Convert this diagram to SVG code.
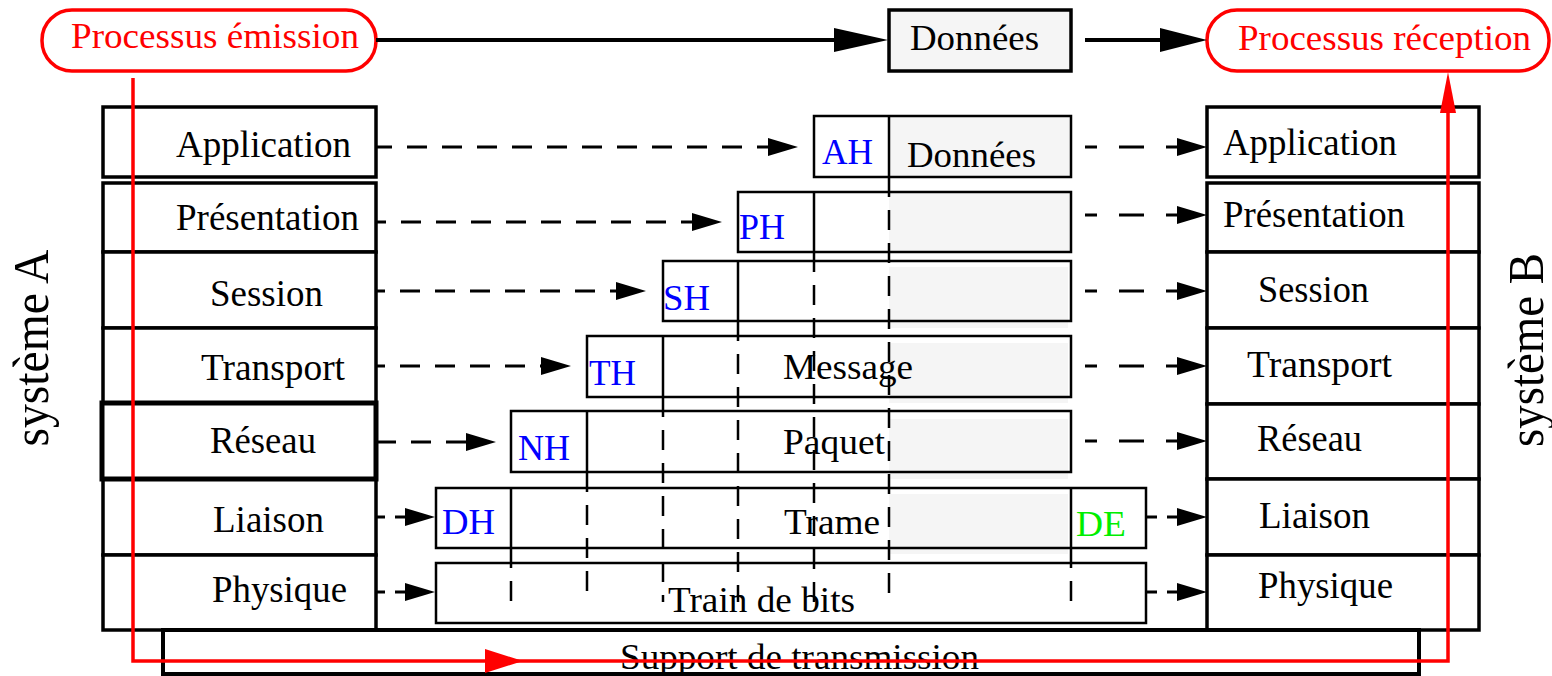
<svg xmlns="http://www.w3.org/2000/svg" width="1552" height="676" viewBox="0 0 1552 676">
<style>
text{font-family:"Liberation Serif","Times New Roman",serif;font-size:36px;fill:#000}
.red{fill:#ff0000;font-size:35px}
.blue{fill:#0000ff}
.green{fill:#00ee00}
.st{font-size:37px}
.big{font-size:50px}
.stack{fill:#fff;stroke:#000;stroke-width:3.5}
.thick{stroke-width:5}
.frame{fill:none;stroke:#000;stroke-width:2.5}
.gray{fill:#f5f5f5;stroke:none}
.div{stroke:#000;stroke-width:2.5}
.vdash{stroke:#000;stroke-width:2.5;stroke-dasharray:20 13;fill:none}
.hdash{stroke:#000;stroke-width:3;fill:none;stroke-dasharray:20 15;stroke-dashoffset:9}
.rdash{stroke:#000;stroke-width:3;fill:none;stroke-dasharray:11 22 25 22 12}
.sdash{stroke:#000;stroke-width:3;fill:none;stroke-dasharray:10 10}
.proc{fill:#fff;stroke:#ff0000;stroke-width:3.5}
</style>
<defs>
<marker id="ah" markerUnits="userSpaceOnUse" markerWidth="30" markerHeight="18" refX="0" refY="9" orient="auto-start-reverse">
<path d="M0,0 L30,9 L0,18 z" fill="#000"/>
</marker>
</defs>

<!-- system labels -->
<text class="big" transform="translate(48,348) rotate(-90)" text-anchor="middle" textLength="197" lengthAdjust="spacingAndGlyphs">système A</text>
<text class="big" transform="translate(1543,350) rotate(-90)" text-anchor="middle" textLength="194" lengthAdjust="spacingAndGlyphs">système B</text>

<!-- left stack -->
<g id="stackA">
<rect class="stack" x="103" y="107" width="273" height="70"/>
<text class="st" x="176" y="157" textLength="175" lengthAdjust="spacingAndGlyphs">Application</text>
<rect class="stack" x="103" y="183" width="273" height="69"/>
<text class="st" x="176" y="230" textLength="183" lengthAdjust="spacingAndGlyphs">Présentation</text>
<rect class="stack" x="103" y="252" width="273" height="76"/>
<text class="st" x="210" y="306" textLength="113" lengthAdjust="spacingAndGlyphs">Session</text>
<rect class="stack" x="103" y="328" width="273" height="75"/>
<text class="st" x="201" y="380" textLength="144" lengthAdjust="spacingAndGlyphs">Transport</text>
<rect class="stack" x="103" y="479" width="273" height="76"/>
<text class="st" x="213" y="532" textLength="111" lengthAdjust="spacingAndGlyphs">Liaison</text>
<rect class="stack" x="103" y="555" width="273" height="75"/>
<text class="st" x="212" y="602" textLength="135" lengthAdjust="spacingAndGlyphs">Physique</text>
<rect class="stack thick" x="102" y="403" width="274" height="76"/>
<text class="st" x="210" y="453" textLength="106" lengthAdjust="spacingAndGlyphs">Réseau</text>
</g>

<!-- right stack -->
<g id="stackB">
<rect class="stack" x="1207" y="107" width="272" height="70"/>
<text class="st" x="1223" y="155" textLength="174" lengthAdjust="spacingAndGlyphs">Application</text>
<rect class="stack" x="1207" y="183" width="272" height="69"/>
<text class="st" x="1223" y="227" textLength="182" lengthAdjust="spacingAndGlyphs">Présentation</text>
<rect class="stack" x="1207" y="252" width="272" height="76"/>
<text class="st" x="1258" y="302" textLength="111" lengthAdjust="spacingAndGlyphs">Session</text>
<rect class="stack" x="1207" y="328" width="272" height="76"/>
<text class="st" x="1247" y="377" textLength="145" lengthAdjust="spacingAndGlyphs">Transport</text>
<rect class="stack" x="1207" y="404" width="272" height="75"/>
<text class="st" x="1257" y="451" textLength="105" lengthAdjust="spacingAndGlyphs">Réseau</text>
<rect class="stack" x="1207" y="479" width="272" height="76"/>
<text class="st" x="1259" y="528" textLength="111" lengthAdjust="spacingAndGlyphs">Liaison</text>
<rect class="stack" x="1207" y="555" width="272" height="75"/>
<text class="st" x="1258" y="598" textLength="135" lengthAdjust="spacingAndGlyphs">Physique</text>
</g>

<!-- support -->
<g id="support">
<rect x="163" y="630" width="1256" height="44" fill="#fff" stroke="#000" stroke-width="4"/>
<text x="620" y="669" textLength="359" lengthAdjust="spacingAndGlyphs">Support de transmission</text>
</g>

<!-- top row -->
<g id="emission">
<rect class="proc" x="42" y="10" width="334" height="61" rx="30"/>
<text class="red" x="71" y="48" textLength="288" lengthAdjust="spacingAndGlyphs">Processus émission</text>
</g>
<g id="donnees">
<rect x="889" y="10" width="182" height="61" fill="#f5f5f5" stroke="#000" stroke-width="3.5"/>
<text x="910" y="50" textLength="129" lengthAdjust="spacingAndGlyphs">Données</text>
</g>
<g id="reception">
<rect class="proc" x="1207" y="10" width="342" height="61" rx="30"/>
<text class="red" x="1238" y="50" textLength="293" lengthAdjust="spacingAndGlyphs">Processus réception</text>
</g>

<!-- encapsulation frames -->
<g id="frames">
<rect class="gray" x="889" y="116" width="182" height="61"/>
<rect class="gray" x="889" y="192" width="182" height="60"/>
<rect class="gray" x="889" y="267" width="179" height="61"/>
<rect class="gray" x="889" y="343" width="179" height="60"/>
<rect class="gray" x="889" y="419" width="179" height="60"/>
<rect class="gray" x="889" y="494" width="179" height="60"/>

<g id="frameAH">
<rect class="frame" x="814" y="116" width="257" height="61"/>
<line class="div" x1="889" y1="116" x2="889" y2="177"/>
<text class="blue" x="822" y="164" textLength="51" lengthAdjust="spacingAndGlyphs">AH</text>
<text x="907" y="167" textLength="129" lengthAdjust="spacingAndGlyphs">Données</text>
</g>
<g id="framePH">
<rect class="frame" x="738" y="192" width="333" height="60"/>
<line class="div" x1="814" y1="192" x2="814" y2="252"/>
<text class="blue" x="739" y="239" textLength="46" lengthAdjust="spacingAndGlyphs">PH</text>
</g>
<g id="frameSH">
<rect class="frame" x="663" y="261" width="408" height="60"/>
<line class="div" x1="738" y1="261" x2="738" y2="321"/>
<text class="blue" x="663" y="310" textLength="47" lengthAdjust="spacingAndGlyphs">SH</text>
</g>
<g id="frameTH">
<rect class="frame" x="587" y="336" width="484" height="61"/>
<line class="div" x1="663" y1="336" x2="663" y2="397"/>
<text class="blue" x="589" y="385" textLength="47" lengthAdjust="spacingAndGlyphs">TH</text>
<text x="783" y="379" textLength="130" lengthAdjust="spacingAndGlyphs">Message</text>
</g>
<g id="frameNH">
<rect class="frame" x="511" y="411" width="560" height="61"/>
<line class="div" x1="587" y1="411" x2="587" y2="472"/>
<text class="blue" x="518" y="460" textLength="52" lengthAdjust="spacingAndGlyphs">NH</text>
<text x="783" y="454" textLength="102" lengthAdjust="spacingAndGlyphs">Paquet</text>
</g>
<g id="frameDH">
<rect class="frame" x="436" y="488" width="710" height="60"/>
<line class="div" x1="511" y1="488" x2="511" y2="548"/>
<line class="div" x1="1071" y1="488" x2="1071" y2="548"/>
<text class="blue" x="442" y="534" textLength="53" lengthAdjust="spacingAndGlyphs">DH</text>
<text x="784" y="534" textLength="96" lengthAdjust="spacingAndGlyphs">Trame</text>
<text class="green" x="1076" y="536" textLength="50" lengthAdjust="spacingAndGlyphs">DE</text>
</g>
<g id="frameBits">
<rect class="frame" x="436" y="563" width="710" height="60"/>
<text x="668" y="612" textLength="187" lengthAdjust="spacingAndGlyphs">Train de bits</text>
</g>
</g>

<!-- connectors -->
<g id="connectors">
<line class="vdash" x1="889" y1="177" x2="889" y2="602"/>
<line class="vdash" x1="814" y1="252" x2="814" y2="602"/>
<line class="vdash" x1="738" y1="321" x2="738" y2="602"/>
<line class="vdash" x1="663" y1="397" x2="663" y2="602"/>
<line class="vdash" x1="587" y1="472" x2="587" y2="602"/>
<line class="vdash" x1="511" y1="548" x2="511" y2="602"/>
<line class="vdash" x1="1071" y1="548" x2="1071" y2="602"/>

<path class="hdash" d="M768,147 H377" marker-start="url(#ah)"/>
<path class="hdash" d="M692,222 H377" marker-start="url(#ah)"/>
<path class="hdash" d="M616,291 H377" marker-start="url(#ah)" style="stroke-dashoffset:14"/>
<path class="hdash" d="M541,366 H377" marker-start="url(#ah)" style="stroke-dashoffset:19"/>
<path class="hdash" d="M466,442 H377" marker-start="url(#ah)" style="stroke-dashoffset:0"/>
<path class="sdash" d="M405,517 H377" marker-start="url(#ah)"/>
<path class="sdash" d="M405,592 H377" marker-start="url(#ah)"/>

<path class="rdash" d="M1177,147 H1085" marker-start="url(#ah)"/>
<path class="rdash" d="M1177,215 H1085" marker-start="url(#ah)"/>
<path class="rdash" d="M1177,291 H1085" marker-start="url(#ah)"/>
<path class="rdash" d="M1177,366 H1085" marker-start="url(#ah)"/>
<path class="rdash" d="M1177,441 H1085" marker-start="url(#ah)"/>
<path class="sdash" d="M1177,517 H1147" marker-start="url(#ah)"/>
<path class="sdash" d="M1177,592 H1147" marker-start="url(#ah)"/>

<line x1="376" y1="40" x2="836" y2="40" stroke="#000" stroke-width="4"/>
<path d="M834,28 L888,40 L834,52 z" fill="#000"/>
<line x1="1085" y1="40" x2="1162" y2="40" stroke="#000" stroke-width="4"/>
<path d="M1160,28 L1207,40 L1160,52 z" fill="#000"/>

<path d="M133,78 V661 H1448 V110" fill="none" stroke="#ff0000" stroke-width="3.5"/>
<path d="M485,649 L523,661 L485,673 z" fill="#ff0000"/>
<path d="M1440,113 L1448,72 L1456,113 z" fill="#ff0000"/>
</g>
</svg>
